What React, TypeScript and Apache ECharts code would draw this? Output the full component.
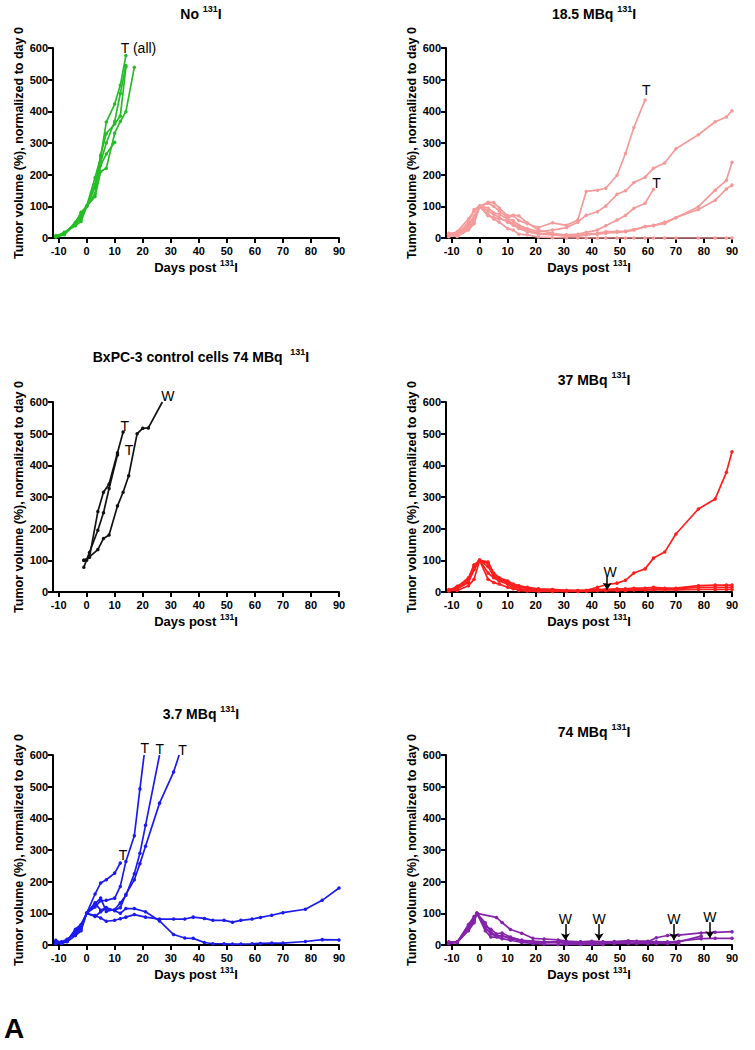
import React, { useEffect, useRef } from "react";
import * as echarts from "echarts";

const FONT = "'Liberation Sans', Arial, Helvetica, sans-serif";

// ---------- axis ticks ----------
const xTickValues = [-10, 0, 10, 20, 30, 40, 50, 60, 70, 80, 90];
const X_MIN = -12;
const X_MAX = 90;
const Y_MIN = 0;
const Y_MAX = 600;
const Y_STEP = 100;

// ---------- titles ----------
const titleTexts = [
  "No ",
  "18.5 MBq ",
  "BxPC-3 control cells 74 MBq  ",
  "37 MBq ",
  "3.7 MBq ",
  "74 MBq ",
];
const isotopeSup = "131";
const isotopeSym = "I";
const xAxisName = "Days post ";
const yAxisName = "Tumor volume (%), normalized to day 0";
const panelLetter = "A";

// ---------- No 131I (green) ----------
const noI_1 = [[-11, 5], [-8, 18], [-4, 39], [-2, 52], [0, 100], [3, 191], [5, 255], [7, 366], [10, 423], [12, 482], [14, 576]];
const noI_2 = [[-11, 3], [-8, 15], [-4, 45], [-2, 60], [0, 100], [3, 170], [5, 240], [7, 300], [10, 368], [12, 456], [14, 545]];
const noI_3 = [[-11, 8], [-8, 12], [-4, 42], [-2, 70], [0, 100], [3, 131], [5, 210], [7, 220], [10, 331], [12, 368], [14, 399], [17, 539]];
const noI_4 = [[-11, 5], [-8, 14], [-4, 48], [-2, 81], [0, 100], [3, 140], [5, 230], [7, 265], [10, 302]];
const noI_5 = [[-10, 6], [-8, 10], [-4, 50], [-2, 78], [0, 100], [3, 160], [5, 262], [7, 330], [10, 360], [12, 385], [14, 540]];

// ---------- 18.5 MBq (pink) ----------
const p185_1 = [[-11, 10], [-8, 15], [-4, 35], [-2, 60], [0, 100], [3, 110], [5, 100], [7, 85], [10, 65], [12, 70], [14, 55], [17, 45], [21, 33], [26, 48], [31, 40], [35, 57], [38, 147], [42, 151], [45, 157], [49, 198], [52, 267], [55, 349], [59, 436]];
const p185_2 = [[-11, 5], [-8, 20], [-4, 60], [-2, 85], [0, 100], [3, 95], [5, 80], [7, 75], [10, 60], [12, 55], [14, 40], [17, 30], [21, 20], [26, 25], [31, 33], [35, 50], [38, 72], [42, 83], [45, 101], [49, 138], [52, 149], [55, 175], [59, 192], [62, 220], [66, 237], [70, 282], [78, 326], [84, 367], [88, 382], [90, 402]];
const p185_3 = [[-11, 12], [-8, 10], [-4, 30], [-2, 50], [0, 100], [3, 70], [5, 65], [7, 60], [10, 55], [12, 45], [14, 35], [17, 25], [21, 15], [26, 12], [31, 10], [35, 12], [38, 18], [42, 25], [45, 39], [49, 57], [52, 71], [55, 94], [59, 110], [62, 154]];
const p185_4 = [[-11, 8], [-8, 5], [-4, 25], [-2, 45], [0, 100], [3, 113], [5, 112], [7, 95], [10, 70], [12, 72], [14, 70], [17, 48], [21, 25], [26, 15], [31, 8], [35, 8], [38, 12], [42, 15], [45, 20], [49, 21], [52, 22], [55, 27], [59, 36], [62, 40], [66, 46], [70, 64], [78, 99], [84, 151], [88, 182], [90, 239]];
const p185_5 = [[-11, 15], [-8, 18], [-4, 40], [-2, 70], [0, 100], [3, 85], [5, 75], [7, 65], [10, 50], [12, 40], [14, 30], [17, 20], [21, 12], [26, 10], [31, 6], [35, 5], [38, 10], [42, 12], [45, 15], [49, 18], [52, 20], [55, 25], [59, 36], [62, 39], [66, 50], [70, 65], [78, 90], [84, 119], [88, 155], [90, 167]];
const p185_6 = [[-11, 5], [-8, 10], [-4, 50], [-2, 90], [0, 100], [3, 75], [5, 60], [7, 50], [10, 30], [12, 25], [14, 12], [17, 10], [21, 3], [26, 1], [31, 0], [35, 0], [38, 0], [42, 0], [45, 0], [49, 0], [52, 0], [55, 0], [59, 0], [62, 0], [66, 0], [70, 0], [78, 0], [84, 0], [88, 0], [90, 0]];

// ---------- BxPC-3 control cells 74 MBq (black) ----------
const bx_1 = [[-1, 100], [1, 110], [4, 254], [6, 315], [8, 341], [11, 440], [13, 505]];
const bx_2 = [[-1, 78], [1, 125], [4, 195], [6, 250], [8, 327], [11, 433]];
const bx_3 = [[-1, 100], [0, 100], [1, 111], [4, 134], [6, 169], [8, 180], [11, 272], [13, 315], [15, 367], [18, 500], [20, 517], [22, 518], [27, 600]];

// ---------- 37 MBq (red) ----------
const r37_1 = [[-11, 5], [-8, 15], [-4, 45], [-2, 85], [0, 100], [3, 95], [5, 60], [7, 45], [10, 35], [12, 25], [14, 20], [17, 15], [21, 10], [26, 8], [31, 5], [35, 5], [38, 5], [42, 15], [45, 23], [49, 28], [52, 37], [55, 60], [59, 73], [62, 107], [66, 126], [70, 183], [78, 262], [84, 294], [88, 378], [90, 443]];
const r37_2 = [[-11, 3], [-8, 10], [-4, 30], [-2, 70], [0, 100], [3, 80], [5, 50], [7, 40], [10, 30], [12, 20], [14, 15], [17, 12], [21, 8], [26, 6], [31, 5], [35, 4], [38, 5], [42, 8], [45, 8], [49, 10], [52, 10], [55, 12], [59, 12], [62, 15], [66, 12], [70, 12], [78, 20], [84, 22], [88, 22], [90, 22]];
const r37_3 = [[-11, 5], [-8, 5], [-4, 20], [-2, 40], [0, 100], [3, 40], [5, 30], [7, 25], [10, 15], [12, 10], [14, 8], [17, 5], [21, 5], [26, 4], [31, 3], [35, 3], [38, 3], [42, 5], [45, 5], [49, 5], [52, 6], [55, 8], [59, 8], [62, 10], [66, 10], [70, 10], [78, 15], [84, 15], [88, 15], [90, 15]];
const r37_4 = [[-11, 8], [-8, 12], [-4, 35], [-2, 80], [0, 100], [3, 60], [5, 45], [7, 35], [10, 25], [12, 12], [14, 5], [17, 3], [21, 2], [26, 2], [31, 2], [35, 2], [38, 3], [42, 4], [45, 5], [49, 5], [52, 5], [55, 6], [59, 6], [62, 7], [66, 7], [70, 7], [78, 8], [84, 8], [88, 8], [90, 8]];
const r37_5 = [[-11, 5], [-8, 18], [-4, 40], [-2, 85], [0, 100], [3, 90], [5, 55], [7, 40], [10, 30], [12, 20], [14, 10], [17, 8], [21, 5], [26, 5], [31, 3]];

// ---------- 3.7 MBq (blue) ----------
const b37_1 = [[-11, 10], [-9, 5], [-7, 15], [-4, 45], [-2, 60], [0, 100], [3, 161], [5, 196], [7, 206], [10, 227], [12, 259]];
const b37_2 = [[-11, 15], [-9, 8], [-7, 12], [-4, 50], [-2, 65], [0, 100], [3, 120], [5, 140], [7, 141], [10, 148], [12, 185], [14, 264], [17, 345], [19, 493], [20.5, 600]];
const b37_3 = [[-11, 5], [-9, 10], [-7, 18], [-4, 35], [-2, 50], [0, 100], [3, 130], [5, 148], [7, 106], [10, 112], [12, 133], [14, 157], [17, 225], [19, 290], [21, 378], [26, 600]];
const b37_4 = [[-11, 8], [-9, 6], [-7, 10], [-4, 30], [-2, 45], [0, 100], [3, 90], [5, 105], [7, 115], [10, 110], [12, 118], [14, 160], [17, 206], [19, 257], [21, 312], [26, 448], [31, 546], [33, 600]];
const b37_5 = [[-11, 5], [-9, 8], [-7, 15], [-4, 40], [-2, 55], [0, 100], [3, 93], [5, 85], [7, 75], [10, 78], [12, 83], [14, 88], [17, 96], [21, 88], [26, 82], [31, 82], [35, 82], [38, 88], [42, 84], [45, 78], [49, 78], [52, 72], [55, 78], [59, 82], [62, 87], [66, 94], [70, 102], [78, 113], [84, 141], [90, 180]];
const b37_6 = [[-11, 12], [-9, 5], [-7, 12], [-4, 48], [-2, 62], [0, 100], [3, 133], [5, 110], [7, 118], [10, 108], [12, 100], [14, 115], [17, 115], [21, 105], [26, 76], [31, 33], [35, 22], [38, 21], [42, 8], [45, 4], [49, 4], [52, 3], [55, 3], [59, 4], [62, 5], [66, 6], [70, 6], [78, 11], [84, 17], [90, 16]];

// ---------- 74 MBq (purple) ----------
const u74_1 = [[-11, 8], [-8, 10], [-4, 60], [-2, 85], [-1, 100], [6, 87], [8, 71], [11, 49], [15, 37], [19, 21], [23, 19], [28, 16], [31, 12], [36, 10], [40, 10], [44, 10], [48, 11], [53, 12], [56, 11], [60, 10], [63, 23], [67, 30], [71, 31], [79, 38], [84, 40], [90, 42]];
const u74_2 = [[-11, 5], [-8, 10], [-4, 50], [-2, 75], [-1, 100], [2, 70], [4, 40], [6, 30], [8, 28], [11, 22], [15, 15], [19, 12], [23, 10], [28, 10], [31, 8], [36, 8], [40, 8], [44, 8], [48, 8], [53, 10], [56, 10], [60, 8], [63, 8], [67, 8], [71, 12], [79, 20], [84, 21], [90, 21]];
const u74_3 = [[-11, 10], [-8, 8], [-4, 65], [-2, 90], [-1, 100], [2, 55], [4, 35], [6, 28], [8, 30], [11, 20], [15, 12], [19, 10], [23, 8], [28, 8], [31, 5], [36, 5], [40, 5], [44, 5], [48, 5], [53, 5], [56, 5], [60, 5], [63, 5], [67, 5], [71, 10], [79, 28]];
const u74_4 = [[-11, 5], [-8, 8], [-4, 45], [-2, 70], [-1, 100], [2, 45], [4, 25], [6, 25], [8, 20], [11, 15], [15, 8], [19, 5], [23, 3], [28, 2], [31, 2], [36, 2], [40, 2], [44, 2]];
const u74_5 = [[-11, 8], [-8, 9], [-4, 55], [-2, 80], [-1, 100], [2, 60], [4, 50], [6, 35], [8, 38], [11, 25], [15, 15], [19, 10], [23, 8], [28, 10], [31, 10], [36, 10], [40, 12], [44, 10], [48, 10], [53, 13], [56, 12], [60, 12], [63, 10], [67, 10], [71, 5]];

// ---------- annotations (text at [day, volume]) ----------
const noI_notes = [{ text: "T (all)", at: [18.5, 601] }];
const p185_notes = [{ text: "T", at: [59.4, 467] }, { text: "T", at: [63.1, 175] }];
const bx_notes = [{ text: "T", at: [13.6, 523] }, { text: "T", at: [15.1, 447] }, { text: "W", at: [29, 618] }];
const r37_notes = [{ text: "W", at: [46.5, 64] }];
const b37_notes = [{ text: "T", at: [20.7, 622] }, { text: "T", at: [26.1, 619] }, { text: "T", at: [34.2, 617] }, { text: "T", at: [13, 283] }];
const u74_notes = [{ text: "W", at: [30.6, 81] }, { text: "W", at: [42.6, 81] }, { text: "W", at: [69.3, 81] }, { text: "W", at: [82.1, 88] }];

// arrows: [day, from, to]
const r37_arrows = [[45.5, 49, 7]];
const u74_arrows = [[30.6, 66, 15], [42.6, 66, 15], [69.3, 66, 15], [82.1, 72, 22]];

// ---------- colours ----------
const cGreen = "#25bd25";
const cPink = "#f59a9a";
const cBlack = "#111111";
const cRed = "#ff1e1e";
const cBlue = "#1b1bee";
const cPurple = "#8424aa";

const panels = [
  { title: titleTexts[0], color: cGreen, lines: [noI_1, noI_2, noI_3, noI_4, noI_5], openEnds: [], notes: noI_notes, arrows: [] },
  { title: titleTexts[1], color: cPink, lines: [p185_1, p185_2, p185_3, p185_4, p185_5, p185_6], openEnds: [], notes: p185_notes, arrows: [] },
  { title: titleTexts[2], color: cBlack, lines: [bx_1, bx_2, bx_3], openEnds: [2], notes: bx_notes, arrows: [] },
  { title: titleTexts[3], color: cRed, lines: [r37_1, r37_2, r37_3, r37_4, r37_5], openEnds: [], notes: r37_notes, arrows: r37_arrows },
  { title: titleTexts[4], color: cBlue, lines: [b37_1, b37_2, b37_3, b37_4, b37_5, b37_6], openEnds: [1, 2, 3], notes: b37_notes, arrows: [] },
  { title: titleTexts[5], color: cPurple, lines: [u74_1, u74_2, u74_3, u74_4, u74_5], openEnds: [], notes: u74_notes, arrows: u74_arrows },
];

// ---------- layout ----------
const GRID_LEFTS = [53, 446];
const GRID_TOPS = [48, 402, 755];
const GRID_W = 286;
const GRID_H = 190;
const TITLE_CENTER_Y = [15, 15, 358, 381, 715, 733];
const TITLE_LH = 20;
const XNAME_LH = 18;

function buildOption() {
  const grid: any[] = [];
  const xAxis: any[] = [];
  const yAxis: any[] = [];
  const title: any[] = [];
  const series: any[] = [];

  panels.forEach((p, i) => {
    const col = i % 2;
    const row = Math.floor(i / 2);
    const left = GRID_LEFTS[col];
    const top = GRID_TOPS[row];
    grid.push({ left, top, width: GRID_W, height: GRID_H, containLabel: false });

    title.push({
      text: p.title + "{sup|" + isotopeSup + "}" + isotopeSym,
      left: left + GRID_W / 2,
      top: TITLE_CENTER_Y[i] - TITLE_LH / 2 - 6,
      textAlign: "center",
      textStyle: {
        fontFamily: FONT,
        fontSize: 14,
        fontWeight: "bold",
        color: "#000",
        lineHeight: TITLE_LH,
        rich: {
          sup: { fontFamily: FONT, fontSize: 9, fontWeight: "bold", color: "#000", lineHeight: 10, verticalAlign: "top" },
        },
      },
    });

    xAxis.push({
      gridIndex: i,
      type: "value",
      min: X_MIN,
      max: X_MAX,
      axisLine: { show: true, onZero: false, lineStyle: { color: "#000", width: 2 } },
      axisTick: { show: true, customValues: xTickValues, length: 5, lineStyle: { color: "#000", width: 2 } },
      axisLabel: { customValues: xTickValues, fontFamily: FONT, fontSize: 11, fontWeight: "bold", color: "#000", margin: 7 },
      splitLine: { show: false },
      name: xAxisName + "{sup|" + isotopeSup + "}" + isotopeSym,
      nameLocation: "middle",
      nameGap: 20,
      nameTextStyle: {
        fontFamily: FONT,
        fontSize: 13,
        fontWeight: "bold",
        color: "#000",
        lineHeight: XNAME_LH,
        rich: { sup: { fontFamily: FONT, fontSize: 8.5, fontWeight: "bold", color: "#000", lineHeight: 9, verticalAlign: "top" } },
      },
    });

    yAxis.push({
      gridIndex: i,
      type: "value",
      min: Y_MIN,
      max: Y_MAX,
      interval: Y_STEP,
      axisLine: { show: true, onZero: false, lineStyle: { color: "#000", width: 2 } },
      axisTick: { show: true, length: 5, lineStyle: { color: "#000", width: 2 } },
      axisLabel: { fontFamily: FONT, fontSize: 11, fontWeight: "bold", color: "#000", margin: 5 },
      splitLine: { show: false },
      name: yAxisName,
      nameLocation: "middle",
      nameGap: 27,
      nameTextStyle: { fontFamily: FONT, fontSize: 12.5, fontWeight: "bold", color: "#000" },
    });

    p.lines.forEach((ln, k) => {
      const open = p.openEnds.indexOf(k) >= 0;
      const data = ln.map((pt, j) =>
        open && j === ln.length - 1 ? { value: pt, symbol: "none" } : pt
      );
      series.push({
        type: "line",
        xAxisIndex: i,
        yAxisIndex: i,
        data,
        symbol: "circle",
        symbolSize: 3.5,
        showSymbol: true,
        clip: true,
        lineStyle: { color: p.color, width: 1.7 },
        itemStyle: { color: p.color },
        emphasis: { disabled: true },
        z: 2,
      });
    });

    if (p.notes.length) {
      series.push({
        type: "scatter",
        xAxisIndex: i,
        yAxisIndex: i,
        clip: false,
        symbol: "circle",
        symbolSize: 0.5,
        itemStyle: { color: "rgba(255,255,255,0)" },
        data: p.notes.map((n) => ({ value: n.at, name: n.text })),
        label: {
          show: true,
          position: "inside",
          formatter: "{b}",
          fontFamily: FONT,
          fontSize: 14,
          color: "#000",
          opacity: 1,
        },
        emphasis: { disabled: true },
        z: 5,
      });
    }

    if (p.arrows.length) {
      series.push({
        type: "lines",
        coordinateSystem: "cartesian2d",
        xAxisIndex: i,
        yAxisIndex: i,
        symbol: ["none", "arrow"],
        symbolSize: 7,
        lineStyle: { color: "#000", width: 1.5, opacity: 1 },
        data: p.arrows.map((a) => ({ coords: [[a[0], a[1]], [a[0], a[2]]] })),
        z: 6,
      });
    }
  });

  return {
    animation: false,
    backgroundColor: "#fff",
    title,
    grid,
    xAxis,
    yAxis,
    series,
    graphic: [
      {
        type: "text",
        left: 4,
        top: 1014,
        style: { text: panelLetter, fontFamily: FONT, fontSize: 28, fontWeight: "bold", fill: "#000" },
      },
    ],
  };
}

export default function App() {
  const ref = useRef<HTMLDivElement>(null);
  useEffect(() => {
    const chart = echarts.init(ref.current as HTMLDivElement, null, { renderer: "svg" });
    chart.setOption(buildOption() as any);
    return () => chart.dispose();
  }, []);
  return (
    <div
      ref={ref}
      style={{ position: "absolute", left: 0, top: 0, width: 755, height: 1050, background: "#fff" }}
    />
  );
}
